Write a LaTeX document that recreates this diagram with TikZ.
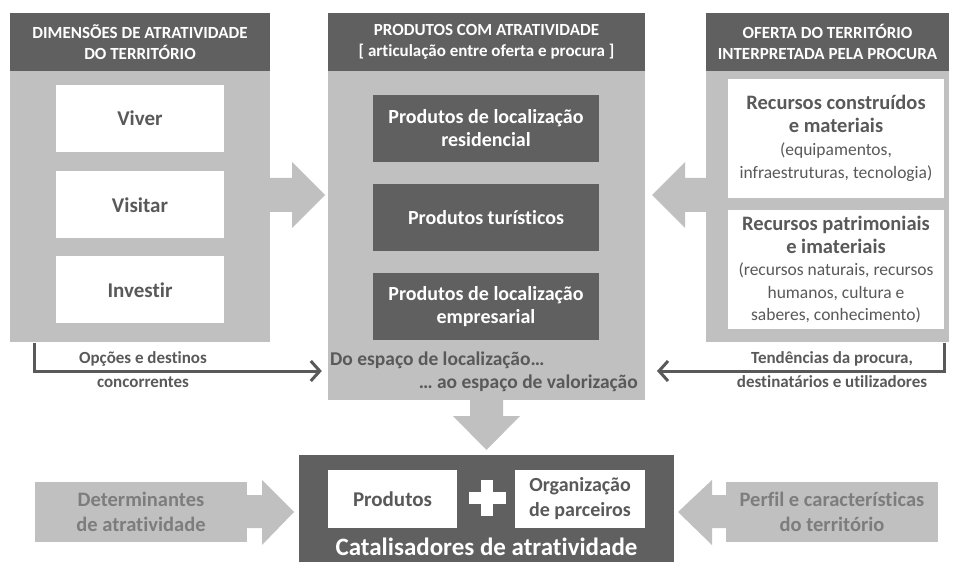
\documentclass[tikz,border=0pt]{standalone}
\usepackage{fontspec}
\setmainfont{Carlito}[Ligatures=NoCommon]
\usetikzlibrary{arrows.meta}

\definecolor{dgrey}{RGB}{95,96,95}
\definecolor{lgrey}{RGB}{191,192,191}
\definecolor{tgrey}{RGB}{89,89,89}
\definecolor{mgrey}{RGB}{125,125,125}

\newcommand{\fs}[2]{\fontsize{#1}{#2}\selectfont}
\newcommand{\rsub}{\mdseries\fs{17.5}{22}}

\begin{document}
\begin{tikzpicture}[x=1pt, y=-1pt,
  head/.style={fill=dgrey, text=white, align=center, inner sep=0pt, font=\bfseries\fs{17}{21}},
  panel/.style={fill=lgrey, inner sep=0pt},
  wbox/.style={fill=white, text=tgrey, align=center, inner sep=0pt, font=\bfseries\fs{21}{24}},
  dbox/.style={fill=dgrey, text=white, align=center, inner sep=0pt, font=\bfseries\fs{20}{23}},
  lbl/.style={text=tgrey, align=center, inner sep=0pt, font=\bfseries\fs{17}{24}},
  blk/.style={fill=lgrey},
  conn/.style={draw=tgrey, line width=3pt, -{Straight Barb[length=9pt,width=20pt]}}]
\useasboundingbox (0,0) rectangle (954,564);

% left column
\node[head, minimum width=260pt, minimum height=58pt] (dimhead) at (140,42) {DIMENSÕES DE ATRATIVIDADE\\DO TERRITÓRIO};
\node[panel, minimum width=260pt, minimum height=271pt, anchor=north] (dim) at (dimhead.south) {};
\node[wbox, minimum width=168pt, minimum height=67pt] (viver) at (140,118.5) {Viver};
\node[wbox, minimum width=168pt, minimum height=67pt] (visitar) at (140,205) {Visitar};
\node[wbox, minimum width=168pt, minimum height=67pt] (investir) at (140,290) {Investir};

% centre column
\node[head, minimum width=317pt, minimum height=58pt] (prodhead) at (486.5,42) {PRODUTOS COM ATRATIVIDADE\\{[} articulação entre oferta e procura {]}};
\node[panel, minimum width=317pt, minimum height=329pt, anchor=north] (prod) at (prodhead.south) {};
\node[dbox, minimum width=226pt, minimum height=67pt] (resid) at (486,128.5) {Produtos de localização\\residencial};
\node[dbox, minimum width=226pt, minimum height=67pt] (turis) at (486,217.5) {Produtos turísticos};
\node[dbox, minimum width=226pt, minimum height=67pt] (empre) at (486,306.5) {Produtos de localização\\empresarial};
\node[lbl, anchor=west, font=\bfseries\fs{19.5}{23}] (loc) at (330,360) {Do espaço de localização…};
\node[lbl, anchor=east, font=\bfseries\fs{19.5}{23}] (val) at (638,383) {… ao espaço de valorização};

% right column
\node[head, minimum width=243pt, minimum height=58pt] (ofhead) at (827.5,42) {OFERTA DO TERRITÓRIO\\INTERPRETADA PELA PROCURA};
\node[panel, minimum width=243pt, minimum height=271pt, anchor=north] (of) at (ofhead.south) {};
\node[wbox, minimum width=216pt, minimum height=119pt, font=\bfseries\fs{20.5}{23}] (constr) at (836,138.5)
  {Recursos construídos\\e materiais\\\rsub (equipamentos,\\\rsub infraestruturas, tecnologia)};
\node[wbox, minimum width=216pt, minimum height=119pt, font=\bfseries\fs{20.5}{22.5}] (patr) at (836,270)
  {Recursos patrimoniais\\e imateriais\\\rsub (recursos naturais, recursos\\\rsub humanos, cultura e\\\rsub saberes, conhecimento)};

% block arrows between columns
\fill[blk] (dim.east |- 0,178) -- (292,178) -- (292,162) -- (325,195) -- (292,228) -- (292,212) -- (dim.east |- 0,212) -- cycle;
\fill[blk] (of.west |- 0,178) -- (685,178) -- (685,162) -- (652,195) -- (685,228) -- (685,212) -- (of.west |- 0,212) -- cycle;
\fill[blk] (470,400) -- (470,416) -- (453,416) -- (486.5,450) -- (520,416) -- (503,416) -- (503,400) -- cycle;

% side connectors
\coordinate (tendend) at (657,371);
\draw[conn, shorten >=6pt] (dim.south -| 34,0) |- (prod.west |- 0,371);
\draw[conn] (of.south -| 944,0) |- (tendend);
\node[lbl] (opc) at (143,369.5) {Opções e destinos\\concorrentes};
\node[lbl] (tend) at (832,369.5) {Tendências da procura,\\destinatários e utilizadores};

% bottom
\node[fill=dgrey, minimum width=375pt, minimum height=107pt, inner sep=0pt] (cat) at (486.5,508.5) {};
\node[wbox, minimum width=129pt, minimum height=58pt, font=\bfseries\fs{21}{25}] (prods) at (392.5,499) {Produtos};
\node[wbox, minimum width=130pt, minimum height=58pt, font=\bfseries\fs{20}{25}] (org) at (580,499) {Organização\\de parceiros};
\fill[white] (468.5,492) rectangle (505.5,504);
\fill[white] (481,480) rectangle (493,516);
\node[text=white, inner sep=0pt, font=\bfseries\fs{25}{28}] (cattxt) at (486.5,547) {Catalisadores de atratividade};

\node[panel, text=mgrey, align=center, font=\bfseries\fs{20.5}{25}, minimum width=212pt, minimum height=60pt] (det) at (141,512) {Determinantes\\de atratividade};
\fill[blk] (det.east |- 0,495) -- (262,495) -- (262,480) -- (294,512) -- (262,545) -- (262,528) -- (det.east |- 0,528) -- cycle;
\node[panel, text=mgrey, align=center, font=\bfseries\fs{20.5}{25}, minimum width=212pt, minimum height=60pt] (perf) at (832,512) {Perfil e características\\do território};
\fill[blk] (perf.west |- 0,495) -- (712,495) -- (712,480) -- (678,512) -- (712,545) -- (712,528) -- (perf.west |- 0,528) -- cycle;
\end{tikzpicture}
\end{document}
